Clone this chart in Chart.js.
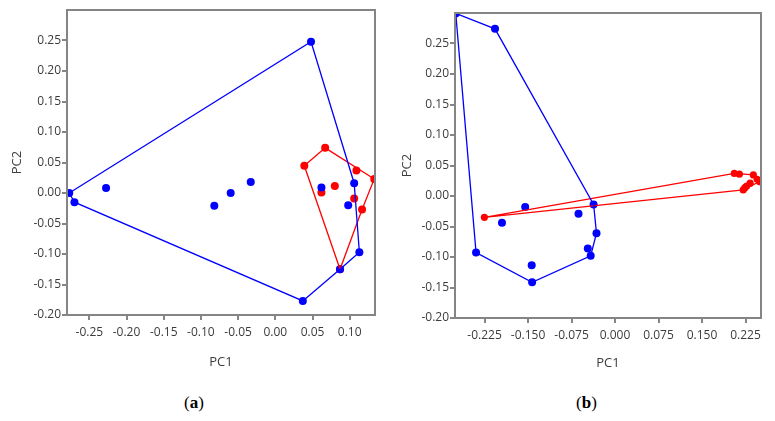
<!DOCTYPE html>
<html>
<head>
<meta charset="utf-8">
<script src="https://cdn.jsdelivr.net/npm/chart.js@4.4.1/dist/chart.umd.min.js"></script>
<style>
  html, body { margin: 0; padding: 0; background: #fff; }
  #wrap { position: relative; width: 775px; height: 421px; overflow: hidden; }
  #cA { position: absolute; left: 0; top: 0; }
  #cB { position: absolute; left: 390px; top: 0; }
  .cap { position: absolute; top: 393px; font-family: "Liberation Serif", serif; font-size: 17px; color: #000; }
</style>
</head>
<body>
<div id="wrap">
  <canvas id="cA" width="390" height="370"></canvas>
  <canvas id="cB" width="385" height="371"></canvas>
  <div class="cap" style="left:184px">(<b>a</b>)</div>
  <div class="cap" style="left:576px">(<b>b</b>)</div>
</div>
<script>
// ---- panel (a) ----
const aBlueX = [0.048, -0.277, -0.270, -0.2275, -0.082, -0.060, -0.033, 0.062, 0.106, 0.098, 0.113, 0.087, 0.037]
const aBlueY = [0.248, 0.000, -0.015, 0.008, -0.021, 0.000, 0.018, 0.009, 0.016, -0.020, -0.097, -0.125, -0.177]
const aBlueHull = [1, 0, 8, 10, 11, 12, 2, 1]
const aRedX = [0.039, 0.067, 0.109, 0.133, 0.062, 0.080, 0.106, 0.1166, 0.087]
const aRedY = [0.0446, 0.074, 0.037, 0.023, 0.001, 0.0116, -0.009, -0.027, -0.125]
const aRedHull = [0, 1, 3, 7, 8, 0]
const aXTicks = ['-0.25', '-0.20', '-0.15', '-0.10', '-0.05', '0.00', '0.05', '0.10']
const aYTicks = ['-0.20', '-0.15', '-0.10', '-0.05', '0.00', '0.05', '0.10', '0.15', '0.20', '0.25']

// ---- panel (b) ----
const bBlueX = [-0.2747, -0.207, -0.155, -0.195, -0.063, -0.037, -0.032, -0.047, -0.042, -0.1437, -0.143, -0.2397]
const bBlueY = [0.2993, 0.274, -0.018, -0.044, -0.029, -0.014, -0.061, -0.086, -0.098, -0.1135, -0.1414, -0.0926]
const bBlueHull = [0, 1, 5, 6, 8, 10, 11, 0]
const bRedX = [-0.2253, 0.2057, 0.2144, 0.2385, 0.249, 0.245, 0.233, 0.227, 0.221, 0.224]
const bRedY = [-0.035, 0.037, 0.0357, 0.0345, 0.0236, 0.0274, 0.021, 0.0164, 0.0099, 0.0137]
const bRedHull = [0, 1, 3, 4, 8, 0]
const bXTicks = ['-0.225', '-0.150', '-0.075', '0.000', '0.075', '0.150', '0.225']
const bYTicks = aYTicks

const BLUE = '#0000ff'
const RED = '#ff0000'
const AXIS = '#858585'
const TEXT = '#3c3c3c'
const FONT = "'Open Sans', sans-serif"

const pts = (xs, ys) => xs.map((x, i) => ({ x: x, y: ys[i] }))
const hull = (xs, ys, idx) => idx.map(i => ({ x: xs[i], y: ys[i] }))

// frame around the plot area
const framePlugin = {
  id: 'frame',
  afterDraw(chart) {
    const { ctx, chartArea: a } = chart
    ctx.save()
    ctx.strokeStyle = AXIS
    ctx.lineWidth = 2
    ctx.strokeRect(a.left, a.top, a.right - a.left, a.bottom - a.top)
    ctx.restore()
  }
}

function makeChart(id, cfg) {
  const lineSet = (data, color) => ({
    data: data, showLine: true, borderColor: color, borderWidth: 1.3,
    pointRadius: 0, fill: false, tension: 0, clip: 0
  })
  const dotSet = (data, color, r) => ({
    data: data, showLine: false, backgroundColor: color, borderColor: color,
    pointRadius: r, borderWidth: 0, clip: 0
  })
  return new Chart(document.getElementById(id), {
    type: 'scatter',
    data: {
      datasets: [
        lineSet(hull(cfg.bx, cfg.by, cfg.bh), BLUE),
        lineSet(hull(cfg.rx, cfg.ry, cfg.rh), RED),
        dotSet(pts(cfg.bx, cfg.by), BLUE, 4),
        dotSet(pts(cfg.rx, cfg.ry), RED, cfg.rr)
      ]
    },
    plugins: [framePlugin],
    options: {
      responsive: false,
      animation: false,
      layout: { padding: cfg.pad },
      plugins: { legend: { display: false }, tooltip: { enabled: false } },
      scales: {
        x: {
          type: 'linear', min: cfg.xMin, max: cfg.xMax,
          afterBuildTicks: s => { s.ticks = cfg.xt.map(v => ({ value: parseFloat(v) })) },
          afterFit: s => { s.height = cfg.xh },
          grid: { display: true, drawOnChartArea: false, drawTicks: true, tickLength: 5, color: AXIS, lineWidth: 2 },
          border: { display: false },
          ticks: {
            color: TEXT, font: { family: FONT, size: 12 }, padding: 5, maxRotation: 0, autoSkip: false,
            callback: (v, i) => cfg.xt[i]
          },
          title: { display: true, text: 'PC1', color: TEXT, font: { family: FONT, size: 13 }, padding: 0 }
        },
        y: {
          type: 'linear', min: -0.2, max: 0.3,
          afterBuildTicks: s => { s.ticks = cfg.yt.map(v => ({ value: parseFloat(v) })) },
          afterFit: s => { s.width = cfg.yw },
          grid: { display: true, drawOnChartArea: false, drawTicks: true, tickLength: 5, color: AXIS, lineWidth: 2 },
          border: { display: false },
          ticks: {
            color: TEXT, font: { family: FONT, size: 12 }, padding: 1, autoSkip: false,
            callback: (v, i) => cfg.yt[i]
          },
          title: { display: true, text: 'PC2', color: TEXT, font: { family: FONT, size: 13 }, padding: 0 }
        }
      }
    }
  })
}

makeChart('cA', {
  bx: aBlueX, by: aBlueY, bh: aBlueHull, rx: aRedX, ry: aRedY, rh: aRedHull, rr: 4,
  xMin: -0.28, xMax: 0.134, xt: aXTicks, yt: aYTicks,
  pad: { left: 9, right: 15, top: 10, bottom: 0 }, yw: 58, xh: 55
})

makeChart('cB', {
  bx: bBlueX, by: bBlueY, bh: bBlueHull, rx: bRedX, ry: bRedY, rh: bRedHull, rr: 3.6,
  xMin: -0.276, xMax: 0.2517, xt: bXTicks, yt: bYTicks,
  pad: { left: 9, right: 14, top: 13, bottom: 0 }, yw: 56, xh: 53
})
</script>
</body>
</html>
